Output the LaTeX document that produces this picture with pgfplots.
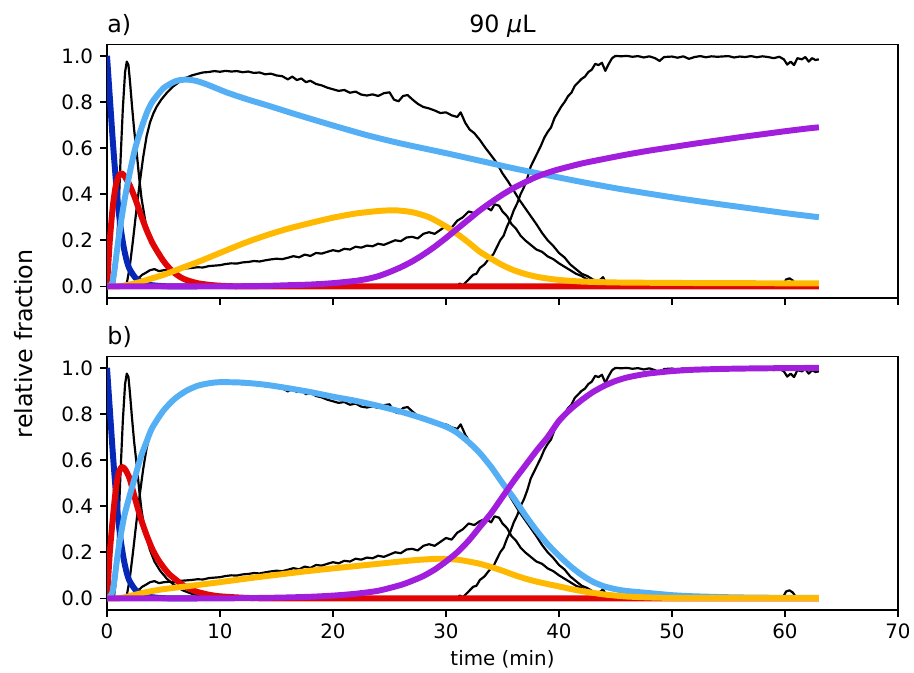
\documentclass[border=0pt]{standalone}
\usepackage{fontspec}
\setmainfont{DejaVu Sans}
\usepackage{pgfplots}
\usepackage{pgfplotstable}
\pgfplotsset{compat=1.18}

\definecolor{cdblue}{RGB}{5,40,185}
\definecolor{cred}{RGB}{225,5,5}
\definecolor{clblue}{RGB}{85,175,245}
\definecolor{corange}{RGB}{255,185,0}
\definecolor{cpurple}{RGB}{160,30,220}

% measured traces (shared by both panels)
\pgfplotstableread{
t y
0 0
0.6 0.0
0.8 0.08
1.0 0.3
1.2 0.55
1.4 0.77
1.6 0.93
1.75 0.975
1.9 0.96
2.05 0.88
2.2 0.79
2.4 0.68
2.65 0.57
2.85 0.47
3.06 0.38
3.4 0.28
3.8 0.21
4.2 0.16
4.7 0.12
5.3 0.085
5.9 0.06
6.7 0.035
7.5 0.02
8.5 0.01
10 0.004
12 0.0
}\traceA

\pgfplotstableread{
t y
1.7 0.0
2.0 0.08
2.3 0.2
2.6 0.33
2.9 0.45
3.2 0.56
3.5 0.65
3.8 0.71
4.1 0.75
4.4 0.78
4.8 0.81
5.3 0.84
5.8 0.865
6.2 0.88
6.6 0.895
7.0 0.905
7.5 0.915
8.0 0.922
8.5 0.928
9.0 0.93
9.5 0.934
10.0 0.931
10.5 0.935
11.0 0.932
11.5 0.934
12.0 0.929
12.5 0.932
13.0 0.926
13.5 0.928
14.0 0.92
14.5 0.923
15.0 0.915
15.5 0.912
16.0 0.898
16.4 0.91
16.8 0.895
17.2 0.902
17.6 0.886
18.0 0.892
18.5 0.878
19.0 0.872
19.5 0.862
20.0 0.855
20.5 0.848
21.0 0.852
21.5 0.84
22.0 0.845
22.5 0.832
23.0 0.828
23.5 0.833
24.0 0.826
24.5 0.838
25.0 0.842
25.4 0.81
25.8 0.803
26.2 0.826
26.6 0.83
27.0 0.812
27.5 0.792
28.0 0.778
28.5 0.772
29.0 0.763
29.5 0.752
30.0 0.755
30.5 0.742
31.0 0.735
31.3 0.755
31.7 0.71
32.1 0.68
32.5 0.665
33.0 0.635
33.5 0.6
34.0 0.568
34.5 0.535
35.0 0.49
35.5 0.455
36.0 0.415
36.5 0.375
37.0 0.34
37.5 0.305
38.0 0.27
38.5 0.232
39.0 0.2
39.5 0.175
40.0 0.145
40.5 0.125
41.0 0.095
41.5 0.075
42.0 0.055
42.5 0.045
43.0 0.03
43.5 0.022
43.9 0.04
44.2 0.01
44.6 0.005
45.0 0.003
50.0 0.002
59.8 0.003
60.1 0.03
60.4 0.035
60.7 0.025
61.0 0.003
62.0 0.01
62.3 0.002
63.0 0.0
}\traceB

\pgfplotstableread{
t y
2.5 0.02
2.8 0.035
3.1 0.05
3.4 0.058
3.8 0.07
4.2 0.075
4.6 0.066
5.0 0.07
5.5 0.072
6.0 0.07
6.5 0.076
7.0 0.078
7.5 0.08
8.0 0.083
8.5 0.082
9.0 0.088
9.5 0.09
10.0 0.092
10.5 0.097
11.0 0.1
11.5 0.099
12.0 0.104
12.5 0.106
13.0 0.11
13.5 0.108
14.0 0.113
14.5 0.117
15.0 0.12
15.5 0.118
16.0 0.124
16.5 0.131
17.0 0.126
17.5 0.138
18.0 0.132
18.5 0.145
19.0 0.142
19.5 0.15
20.0 0.157
20.5 0.152
21.0 0.163
21.5 0.16
22.0 0.172
22.5 0.168
23.0 0.177
23.5 0.174
24.0 0.185
24.5 0.18
25.0 0.19
25.5 0.2
26.0 0.196
26.5 0.212
27.0 0.215
27.5 0.208
28.0 0.228
28.5 0.235
29.0 0.228
29.5 0.245
30.0 0.262
30.5 0.255
31.0 0.285
31.5 0.3
32.0 0.325
32.5 0.318
33.0 0.335
33.5 0.345
34.0 0.33
34.3 0.356
34.7 0.35
35.0 0.325
35.4 0.305
35.8 0.27
36.2 0.25
36.6 0.22
37.0 0.2
37.5 0.18
38.0 0.16
38.5 0.15
39.0 0.13
39.5 0.118
40.0 0.1
40.5 0.085
41.0 0.07
41.5 0.055
42.0 0.045
42.5 0.03
43.0 0.02
43.5 0.01
44.0 0.003
46.0 0.0
}\traceC

\pgfplotstableread{
t y
0 0
31.0 0
31.2 0.012
31.5 0.005
32.0 0.03
32.4 0.05
32.7 0.055
33.0 0.08
33.4 0.095
33.8 0.12
34.2 0.14
34.5 0.17
34.8 0.2
35.1 0.22
35.4 0.26
35.7 0.29
36.0 0.33
36.3 0.36
36.6 0.4
36.9 0.43
37.2 0.47
37.5 0.52
37.8 0.55
38.1 0.58
38.4 0.61
38.7 0.645
39.0 0.67
39.3 0.69
39.6 0.73
39.9 0.755
40.2 0.78
40.5 0.8
40.8 0.825
41.1 0.84
41.4 0.87
41.7 0.885
42.0 0.9
42.3 0.91
42.6 0.93
42.9 0.94
43.2 0.965
43.5 0.96
43.8 0.97
44.1 0.935
44.4 0.965
44.7 0.99
45.0 1.0
45.5 0.998
46.0 1.0
46.5 0.996
47.0 0.999
47.5 0.993
48.0 0.998
48.5 0.99
48.9 0.978
49.3 0.995
50.0 0.997
50.5 0.992
51.0 0.998
51.5 0.987
52.0 0.995
52.5 0.999
53.0 0.994
53.5 0.998
54.0 0.996
55.0 0.999
55.5 0.993
56.0 0.997
56.5 0.995
57.0 0.999
57.5 0.994
58.0 0.998
58.5 0.995
59.0 0.99
59.5 0.996
59.9 0.985
60.2 0.962
60.5 0.975
60.8 0.96
61.1 0.99
61.5 0.985
61.8 0.995
62.1 0.975
62.4 0.99
62.7 0.982
63.0 0.985
}\traceD

% species A (same model in both panels)
\pgfplotstableread{
t y
0 1.0
0.25 0.82
0.5 0.64
0.75 0.48
1.0 0.34
1.25 0.24
1.5 0.165
1.75 0.11
2.0 0.075
2.5 0.038
3.0 0.02
3.5 0.01
4.0 0.005
5.0 0.001
6.0 0.0
8.0 0.0
}\fitA

\pgfplotsset{
  panel/.style={
    scale only axis,
    width=398.66pt, height=127.8pt,
    xmin=0, xmax=70, ymin=-0.05, ymax=1.05,
    clip mode=individual,
    xtick={0,10,20,30,40,50,60,70},
    ytick={0,0.2,0.4,0.6,0.8,1},
    tick pos=left, tick align=outside,
    major tick length=3.5pt,
    every tick/.style={black, line width=0.8pt},
    axis line style={line width=0.8pt},
    tick label style={font=\fontsize{10}{12}\selectfont},
    /pgf/number format/assume math mode=true,
    yticklabel style={/pgf/number format/.cd, fixed, fixed zerofill, precision=1},
  },
  meas/.style={black, line width=1.1pt, line join=round},
  fit/.style={line width=3pt, line join=round, smooth, tension=0.4},
}

\begin{document}
\begin{tikzpicture}

% ---------- panel a ----------
\begin{axis}[panel, at={(0,157.25pt)}, anchor=south west, xticklabels={}]
\addplot[meas] table[x=t,y=y] {\traceA};
\addplot[meas] table[x=t,y=y] {\traceB};
\addplot[meas] table[x=t,y=y] {\traceC};
\addplot[meas] table[x=t,y=y] {\traceD};
\addplot[fit, cdblue] table[x=t,y=y] {\fitA};
\addplot[fit, cred] coordinates {
(0,0) (0.25,0.2) (0.5,0.34) (0.75,0.43) (1.0,0.475) (1.25,0.49) (1.5,0.482) (2.0,0.44)
(2.5,0.38) (3.0,0.31) (3.5,0.245) (4.0,0.19) (4.5,0.148) (5.0,0.11) (5.5,0.08)
(6.0,0.057) (6.5,0.04) (7.0,0.028) (8.0,0.014) (9.0,0.007) (10,0.003) (12,0) (20,0) (40,0) (63,0)};
\addplot[fit, clblue] coordinates {
(0,0) (0.5,0.02) (1.0,0.2) (1.5,0.36) (2.0,0.49) (2.5,0.6) (3.0,0.68) (3.5,0.75)
(4.0,0.8) (5.0,0.86) (6.0,0.889) (6.5,0.895) (7.0,0.897) (7.5,0.895) (8.0,0.89)
(8.5,0.882) (9.0,0.873) (9.5,0.863) (10,0.853) (10.5,0.843) (11.2,0.831)
(12.5,0.81) (14,0.788) (15.5,0.765) (17,0.742) (20,0.698) (23,0.656) (26,0.62)
(30,0.578) (33,0.545) (36,0.512) (39,0.482) (42,0.453) (45,0.426) (48,0.402)
(51,0.379) (54,0.358) (57,0.338) (60,0.318) (63,0.3)};
\addplot[fit, corange] coordinates {
(0,0) (1,0) (2,0.008) (3,0.02) (4,0.035) (5,0.05) (6,0.068) (7,0.087) (8,0.105)
(10,0.145) (12,0.185) (14,0.22) (16,0.25) (18,0.275) (20,0.298) (22,0.316)
(24,0.327) (25.5,0.33) (27,0.322) (28.5,0.3) (30,0.26) (31.2,0.22) (32,0.19)
(33,0.15) (34,0.12) (35,0.092) (36,0.07) (37,0.054) (38,0.042) (39,0.034)
(40,0.028) (42,0.021) (45,0.017) (50,0.015) (55,0.014) (63,0.013)};
\addplot[fit, cpurple] coordinates {
(0,0) (10,0) (14,0.002) (16,0.005) (18,0.008) (20,0.014) (22,0.024) (23,0.032)
(24,0.044) (25,0.062) (26,0.083) (27,0.108) (28,0.138) (29,0.172) (30,0.21)
(31,0.25) (32,0.29) (33,0.33) (34,0.365) (35,0.398) (36,0.427) (37,0.452)
(38,0.475) (39,0.493) (40,0.508) (42,0.533) (44,0.553) (46,0.572) (48,0.589)
(50,0.604) (52,0.619) (54,0.633) (56,0.647) (58,0.66) (60,0.673) (62,0.685) (63,0.69)};
\node[anchor=base west, font=\fontsize{12}{14}\selectfont, inner sep=0pt]
  at (rel axis cs:0,1) [yshift=6pt] {a)};
\node[anchor=base, font=\fontsize{12}{14}\selectfont, inner sep=0pt]
  at (rel axis cs:0.5,1) [yshift=6pt] {90 {\itshape μ}L};
\end{axis}

% ---------- panel b ----------
\begin{axis}[panel, at={(0,0)}, anchor=south west]
\addplot[meas] table[x=t,y=y] {\traceA};
\addplot[meas] table[x=t,y=y] {\traceB};
\addplot[meas] table[x=t,y=y] {\traceC};
\addplot[meas] table[x=t,y=y] {\traceD};
\addplot[fit, cdblue] table[x=t,y=y] {\fitA};
\addplot[fit, cred] coordinates {
(0,0) (0.25,0.2) (0.5,0.34) (0.75,0.46) (1.0,0.54) (1.3,0.57) (1.6,0.56) (2.0,0.52)
(2.5,0.43) (3.0,0.345) (3.5,0.275) (4.0,0.215) (4.5,0.17) (5.0,0.135) (5.5,0.105)
(6.0,0.085) (6.5,0.065) (7.0,0.05) (7.5,0.037) (8.0,0.028) (9.0,0.016) (10,0.009)
(12,0.003) (14,0) (20,0) (40,0) (63,0)};
\addplot[fit, clblue] coordinates {
(0,0) (0.5,0.03) (1.0,0.21) (1.5,0.35) (2.0,0.445) (2.5,0.53) (3.0,0.615) (3.5,0.68)
(4.0,0.74) (5.0,0.815) (6.0,0.866) (7.0,0.9) (8.0,0.922) (9.0,0.933) (10,0.938)
(12,0.936) (14,0.927) (16,0.912) (18,0.895) (20,0.875) (22,0.857) (24,0.835)
(26,0.81) (28,0.78) (30,0.745) (31,0.718) (32,0.678) (33,0.63) (34,0.57) (35,0.5)
(36,0.435) (37,0.362) (38,0.295) (39,0.235) (40,0.185) (41,0.14) (42,0.102)
(43,0.072) (44,0.052) (45,0.04) (46,0.032) (48,0.023) (50,0.014) (52,0.009)
(55,0.005) (58,0.003) (63,0.002)};
\addplot[fit, corange] coordinates {
(0,0) (1,0) (2,0.01) (3,0.022) (4,0.032) (5,0.04) (7,0.052) (9,0.064) (11,0.077)
(13,0.09) (15,0.102) (17,0.114) (19,0.125) (21,0.135) (23,0.145) (25,0.155)
(27,0.165) (28.5,0.17) (29.5,0.172) (31,0.168) (32,0.16) (33,0.15) (34,0.136)
(35,0.12) (36,0.102) (37,0.086) (38,0.073) (39,0.062) (40,0.052) (41,0.041)
(42,0.032) (43,0.024) (44,0.017) (45,0.012) (46,0.008) (48,0.004) (50,0.002)
(55,0.001) (63,0.001)};
\addplot[fit, cpurple] coordinates {
(0,0) (10,0) (15,0.003) (18,0.007) (20,0.012) (22,0.02) (24,0.033) (26,0.058)
(27,0.076) (28,0.097) (29,0.125) (30,0.16) (31,0.2) (32,0.25) (33,0.31) (34,0.37)
(35,0.44) (36,0.51) (37,0.575) (38,0.64) (39,0.7) (40,0.77) (41,0.82) (42,0.86)
(43,0.895) (44,0.922) (45,0.943) (46,0.958) (47,0.968) (48,0.976) (50,0.986)
(52,0.992) (55,0.996) (58,0.998) (63,1.0)};
\node[anchor=base west, font=\fontsize{12}{14}\selectfont, inner sep=0pt]
  at (rel axis cs:0,1) [yshift=6pt] {b)};
\end{axis}

% shared axis labels
\node[rotate=90, font=\fontsize{12}{14}\selectfont, inner sep=0pt]
  at (-41.8pt,134.1pt) {relative fraction};
\node[anchor=base, font=\fontsize{10}{12}\selectfont, inner sep=0pt]
  at (199.33pt,-28.2pt) {time (min)};

\pgfresetboundingbox
\useasboundingbox (-53.93pt,-31.75pt) rectangle (406.73pt,307.4pt);
\end{tikzpicture}
\end{document}
